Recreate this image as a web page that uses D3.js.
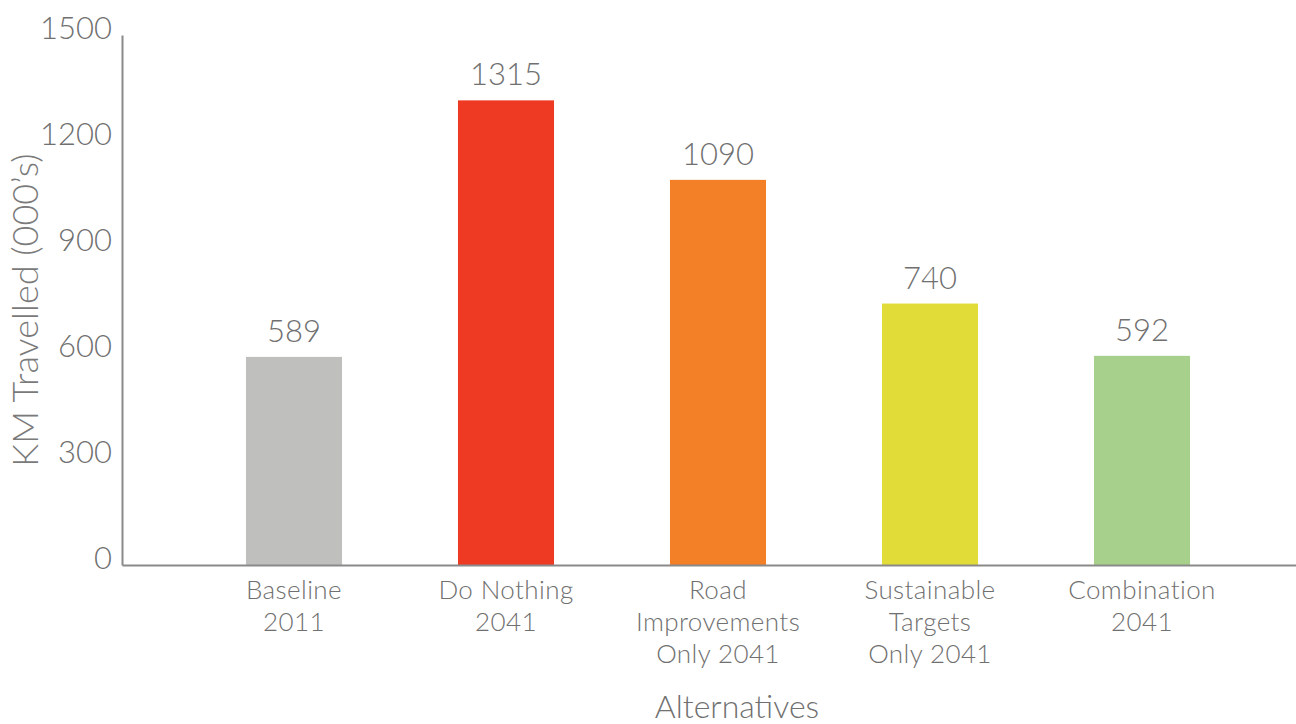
<!DOCTYPE html>
<html>
<head>
<meta charset="utf-8">
<script src="https://cdn.jsdelivr.net/npm/d3@7"></script>
<style>
  body { margin: 0; background: #fff; }
  text { font-family: Lato, "Open Sans", sans-serif; font-weight: 300; fill: #707070; }
</style>
</head>
<body>
<div id="chart"></div>
<script>
// data
const categories = [
  ["Baseline", "2011"],
  ["Do Nothing", "2041"],
  ["Road", "Improvements", "Only 2041"],
  ["Sustainable", "Targets", "Only 2041"],
  ["Combination", "2041"]
];
const values = [589, 1315, 1090, 740, 592];
const barColors = ['#bfbfbd', '#ee3a23', '#f37f27', '#e1dc37', '#a8d08d'];
const yTicks = [0, 300, 600, 900, 1200, 1500];

const width = 1296, height = 724;
const axisX = 122, axisTop = 35, axisBottom = 565;

const svg = d3.select('#chart')
  .append('svg')
  .attr('width', width)
  .attr('height', height);

const keys = categories.map(function(d) { return d.join(' '); });

const x = d3.scaleBand()
  .domain(keys)
  .range([188, 1248])
  .paddingInner(0.547)
  .paddingOuter(0.2735);

const y = d3.scaleLinear()
  .domain([0, 1500])
  .range([axisBottom, axisTop]);

// bars
svg.append('g')
  .selectAll('rect')
  .data(values)
  .enter().append('rect')
    .attr('x', function(d, i) { return x(keys[i]); })
    .attr('y', function(d) { return y(d); })
    .attr('width', x.bandwidth())
    .attr('height', function(d) { return y(0) - y(d); })
    .attr('fill', function(d, i) { return barColors[i]; });

// value labels
svg.append('g')
  .selectAll('text')
  .data(values)
  .enter().append('text')
    .attr('x', function(d, i) { return x(keys[i]) + x.bandwidth() / 2; })
    .attr('y', function(d) { return y(d) - 15; })
    .attr('text-anchor', 'middle')
    .style('font-size', '31px')
    .text(function(d) { return d; });

// y axis (line + labels only, no tick marks)
const yAxis = svg.append('g')
  .attr('transform', 'translate(' + axisX + ',0)')
  .call(d3.axisLeft(y).tickValues(yTicks).tickFormat(d3.format('d')).tickSize(0).tickPadding(10));
yAxis.select('.domain').attr('stroke', '#8a8a8a').attr('stroke-width', 2);
yAxis.selectAll('.tick text')
  .attr('fill', '#707070')
  .attr('dy', '3px')
  .attr('dominant-baseline', 'alphabetic')
  .style('font-size', '31px')
  .style('font-family', 'Lato, sans-serif')
  .style('font-weight', 300);

// x axis baseline
const xAxis = svg.append('g')
  .attr('transform', 'translate(0,' + axisBottom + ')')
  .call(d3.axisBottom(d3.scaleLinear().range([axisX, width])).ticks(0).tickSize(0));
xAxis.select('.domain').attr('stroke', '#8a8a8a').attr('stroke-width', 2);

// category labels
const cat = svg.append('g')
  .selectAll('text')
  .data(categories)
  .enter().append('text')
    .attr('text-anchor', 'middle')
    .style('font-size', '26px')
    .style('letter-spacing', '0.4px');
cat.selectAll('tspan')
  .data(function(d, i) { return d.map(function(line) { return {line: line, i: i}; }); })
  .enter().append('tspan')
    .attr('x', function(d) { return x(keys[d.i]) + x.bandwidth() / 2; })
    .attr('y', function(d, j) { return 599 + j * 32; })
    .text(function(d) { return d.line; });

// axis titles
svg.append('text')
  .attr('transform', 'translate(38,310) rotate(-90)')
  .attr('text-anchor', 'middle')
  .style('font-size', '36px')
  .style('fill', '#7a7a7a')
  .text('KM Travelled (000\u2019s)');

svg.append('text')
  .attr('x', 737)
  .attr('y', 718)
  .attr('text-anchor', 'middle')
  .style('font-size', '32px')
  .text('Alternatives');
</script>
</body>
</html>
